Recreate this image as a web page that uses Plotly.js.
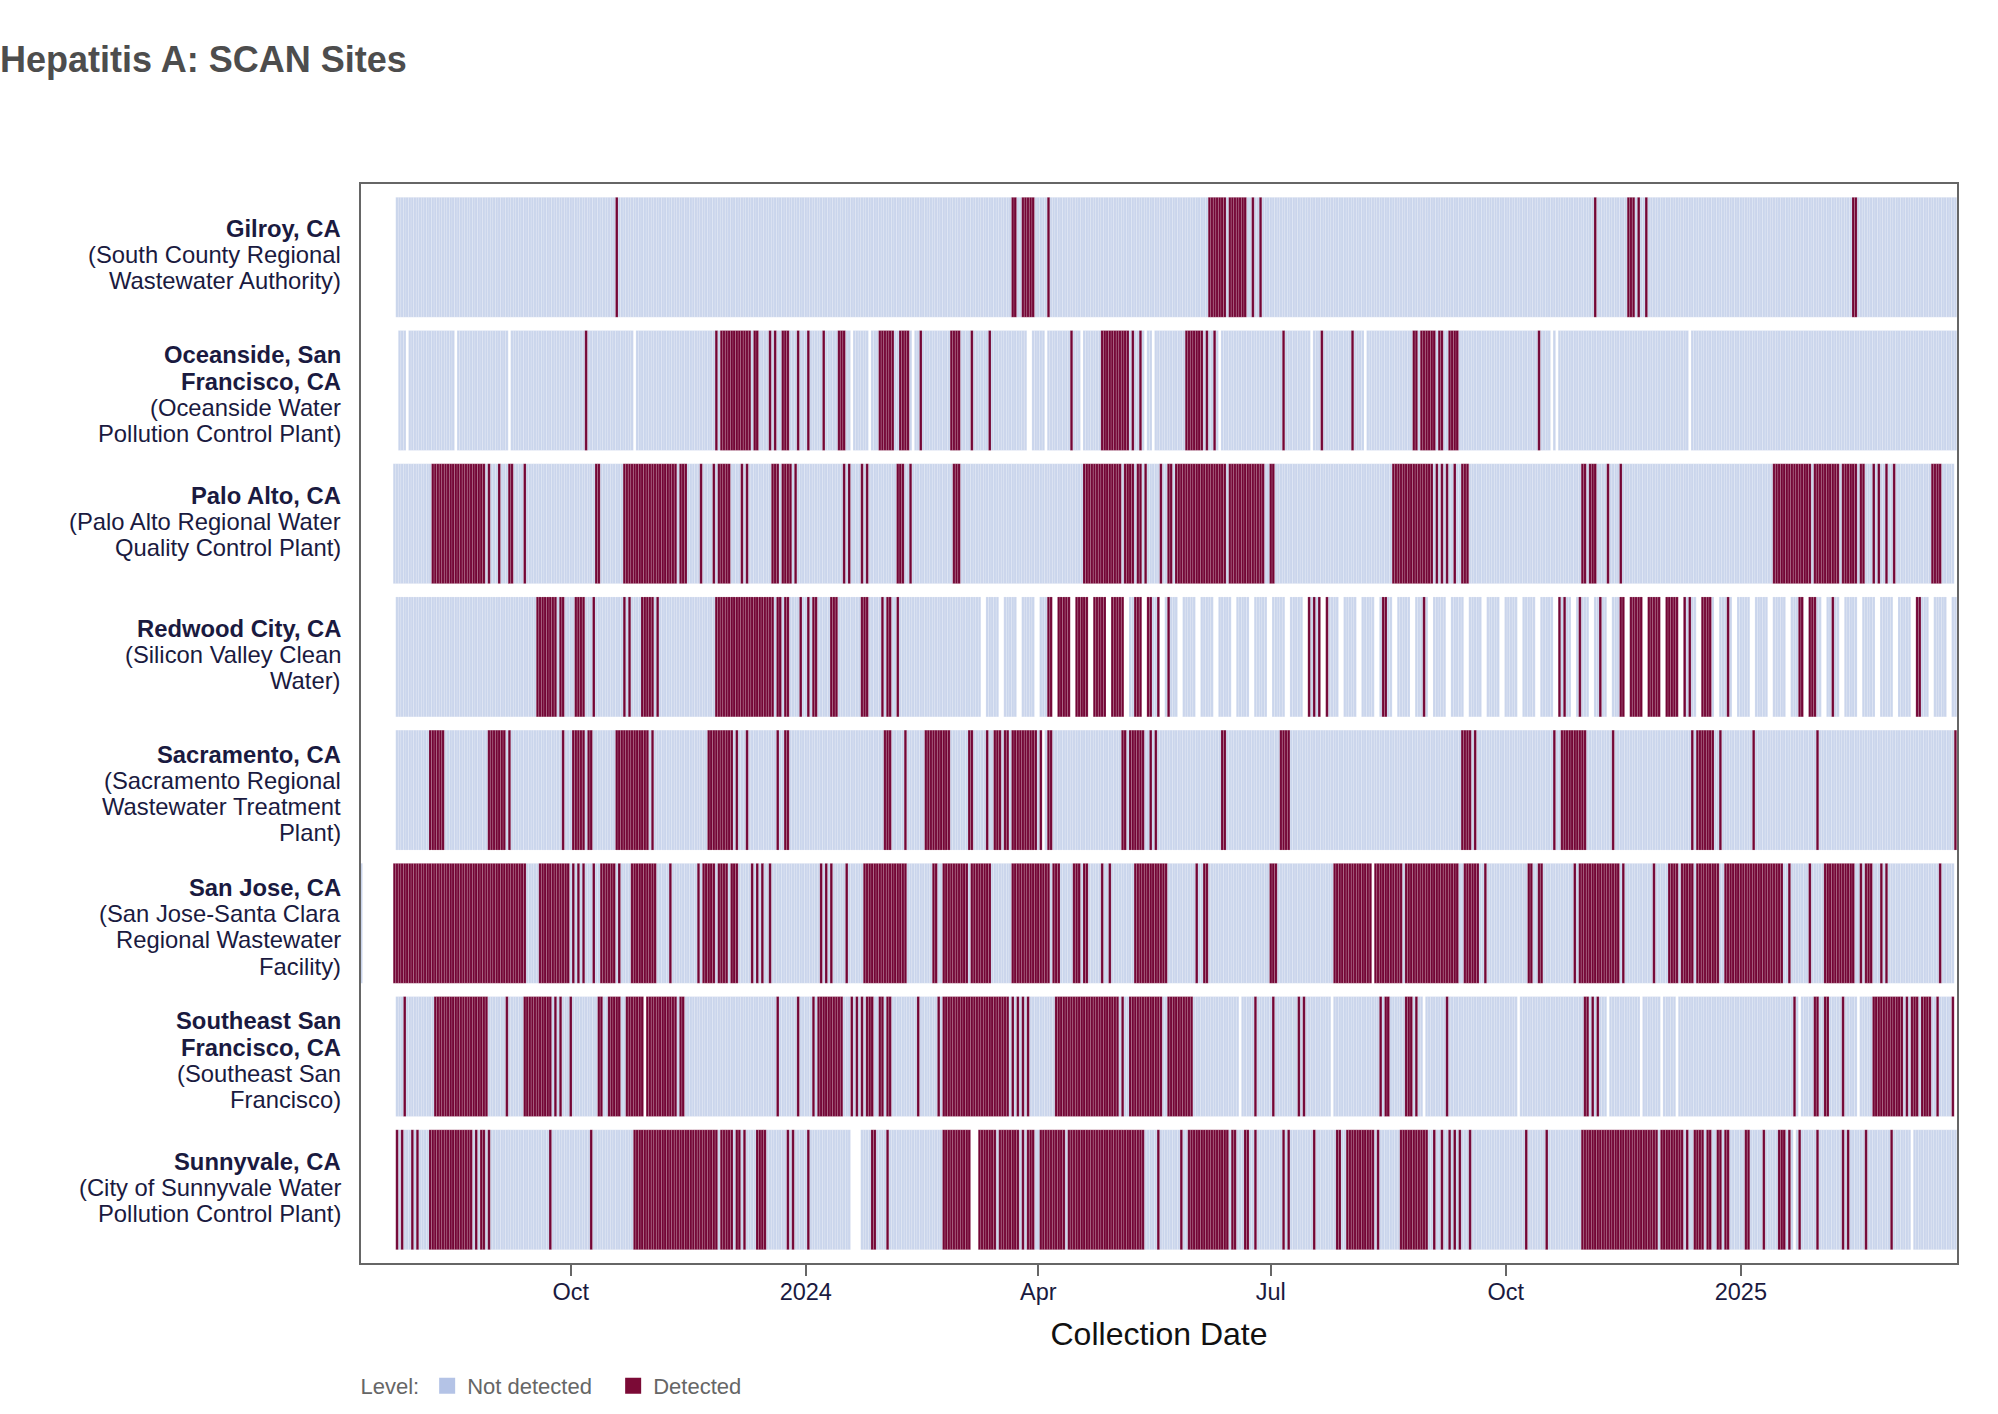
<!DOCTYPE html>
<html>
<head>
<meta charset="utf-8">
<script src="https://cdn.plot.ly/plotly-3.0.1.min.js"></script>
<style>html,body{margin:0;padding:0;background:#fff;}</style>
</head>
<body>
<div id="chart" style="width:1998px;height:1414px;"></div>
<script>
// All day numbers below are days counted from DAY_ZERO (negative = before it).
const DAY_ZERO = '2023-10-01';

// y-axis labels, one entry per line (first line(s) bold = site name)
const siteLabelLines = [
  ['<b>Gilroy, CA</b>', '(South County Regional', 'Wastewater Authority)'],
  ['<b>Oceanside, San</b>', '<b>Francisco, CA</b>', '(Oceanside Water', 'Pollution Control Plant)'],
  ['<b>Palo Alto, CA</b>', '(Palo Alto Regional Water', 'Quality Control Plant)'],
  ['<b>Redwood City, CA</b>', '(Silicon Valley Clean', 'Water)'],
  ['<b>Sacramento, CA</b>', '(Sacramento Regional', 'Wastewater Treatment', 'Plant)'],
  ['<b>San Jose, CA</b>', '(San Jose-Santa Clara', 'Regional Wastewater', 'Facility)'],
  ['<b>Southeast San</b>', '<b>Francisco, CA</b>', '(Southeast San', 'Francisco)'],
  ['<b>Sunnyvale, CA</b>', '(City of Sunnyvale Water', 'Pollution Control Plant)']
];

// sampled = runs of days with a sample; detected = runs of days with a detection
const gilroySampled = [[-68,542]];
const gilroyDetected = [[18,18],[173,174],[177,181],[187,187],[250,256],[258,264],[267,267],[270,270],[401,401],[414,416],[418,418],[421,421],[502,503]];

const oceansideSampled = [[-67,-65],[-63,-46],[-44,-25],[-23,24],[26,109],[111,116],[118,133],[135,178],[181,185],[187,199],[201,224],[226,227],[229,253],[255,289],[291,310],[312,383],[385,385],[387,437],[439,542]];
const oceansideDetected = [[6,6],[57,57],[59,70],[72,73],[78,78],[80,80],[83,85],[89,89],[93,93],[99,99],[105,107],[121,126],[129,132],[137,137],[149,152],[157,157],[164,164],[196,196],[208,218],[220,220],[223,223],[241,247],[249,249],[252,252],[279,279],[294,294],[306,306],[330,331],[333,338],[340,341],[344,347],[379,379]];

const paloAltoSampled = [[-69,541]];
const paloAltoDetected = [[-54,-34],[-32,-32],[-28,-28],[-24,-23],[-18,-18],[10,11],[21,41],[43,45],[51,51],[56,56],[58,62],[67,67],[69,69],[79,81],[83,86],[88,88],[107,107],[109,109],[114,114],[116,116],[128,130],[133,133],[150,152],[201,215],[217,220],[222,223],[225,225],[231,231],[234,235],[237,256],[258,271],[274,275],[322,337],[339,339],[341,341],[343,343],[346,346],[349,351],[396,397],[399,401],[406,406],[411,411],[471,485],[487,496],[498,503],[505,506],[510,510],[512,512],[515,515],[518,518],[533,536]];

const redwoodSampled = [[-68,160],[163,167],[170,174],[177,181],[184,188],[191,195],[198,202],[205,209],[212,216],[219,223],[226,230],[233,237],[240,244],[247,251],[254,258],[261,265],[268,272],[275,279],[282,286],[289,293],[296,300],[303,307],[310,314],[317,321],[324,328],[331,335],[338,342],[345,349],[352,356],[359,363],[366,370],[373,377],[380,384],[387,391],[394,398],[401,405],[408,412],[415,419],[422,426],[429,433],[436,440],[443,447],[450,454],[457,461],[464,468],[471,475],[478,482],[485,489],[492,496],[499,503],[506,510],[513,517],[520,524],[527,531],[534,538],[541,542]];
const redwoodDetected = [[-13,-6],[-4,-3],[2,5],[9,9],[21,21],[23,23],[28,32],[34,34],[57,79],[81,82],[84,85],[90,90],[93,93],[95,96],[102,104],[114,116],[122,122],[124,125],[128,128],[187,188],[191,195],[198,202],[205,209],[212,216],[221,223],[226,227],[230,230],[234,234],[289,289],[291,291],[293,293],[296,296],[318,319],[334,334],[387,387],[389,389],[395,395],[403,403],[411,412],[415,419],[422,426],[429,433],[436,436],[438,438],[443,446],[453,453],[481,482],[485,487],[494,494],[527,528]];

const sacramentoSampled = [[-68,184],[186,542]];
const sacramentoDetected = [[-55,-50],[-32,-26],[-24,-24],[-3,-3],[1,5],[7,8],[18,30],[32,32],[54,63],[65,65],[69,69],[81,81],[84,85],[123,125],[131,131],[139,148],[156,157],[163,163],[166,168],[170,171],[173,182],[184,184],[187,188],[216,217],[219,224],[227,227],[229,229],[255,256],[278,281],[349,352],[354,354],[385,385],[388,397],[408,408],[439,439],[441,447],[450,450],[463,463],[488,488],[542,542]];

const sanJoseSampled = [[-82,-82],[-69,313],[315,541]];
const sanJoseDetected = [[-69,-18],[-12,-1],[1,1],[3,3],[5,5],[9,9],[12,17],[19,19],[24,33],[39,39],[50,50],[52,56],[58,61],[63,65],[71,71],[73,73],[75,75],[78,78],[98,98],[100,100],[102,102],[108,108],[115,131],[142,143],[146,155],[157,164],[173,187],[189,191],[197,199],[201,202],[208,208],[211,211],[221,233],[245,245],[248,249],[274,276],[299,313],[315,325],[327,347],[350,355],[358,358],[375,376],[379,380],[393,393],[395,410],[412,412],[424,424],[430,433],[435,439],[441,449],[452,474],[477,477],[485,485],[491,502],[505,505],[507,509],[513,513],[515,515],[536,536]];

const southeastSampled = [[-68,28],[30,261],[263,297],[299,333],[335,370],[372,405],[407,418],[420,426],[428,432],[434,480],[482,503],[505,541]];
const southeastDetected = [[-65,-65],[-53,-33],[-25,-25],[-18,-8],[-6,-6],[-4,-4],[0,0],[11,12],[15,19],[22,28],[30,41],[43,44],[81,81],[89,89],[95,95],[97,106],[110,110],[112,112],[114,114],[116,118],[121,122],[124,125],[136,136],[144,144],[146,171],[173,173],[175,175],[177,177],[179,179],[190,214],[216,216],[219,231],[234,243],[268,268],[275,275],[285,285],[287,287],[317,317],[319,320],[327,329],[331,331],[343,343],[397,398],[400,400],[402,402],[479,479],[487,488],[491,492],[498,498],[510,521],[523,523],[525,527],[529,532],[535,535],[541,541]];

const sunnyvaleSampled = [[-68,109],[114,156],[160,478],[480,524],[526,542]];
const sunnyvaleDetected = [[-68,-68],[-66,-66],[-62,-62],[-60,-60],[-55,-39],[-37,-37],[-35,-34],[-32,-32],[-8,-8],[8,8],[25,57],[59,63],[65,66],[68,68],[73,76],[85,85],[87,87],[93,93],[118,119],[124,124],[146,156],[160,166],[168,175],[177,177],[179,181],[184,193],[195,224],[230,230],[239,239],[242,257],[259,260],[264,265],[268,268],[279,279],[281,281],[291,291],[300,301],[304,314],[316,316],[325,335],[338,338],[341,341],[344,344],[346,346],[348,348],[352,352],[374,374],[382,382],[396,425],[427,435],[437,437],[440,443],[445,446],[449,450],[452,453],[460,461],[467,467],[473,475],[477,477],[481,481],[488,488],[498,498],[500,500],[507,507],[517,517]];

const tickDates = ['2023-10-01','2024-01-01','2024-04-01','2024-07-01','2024-10-01','2025-01-01'];
const tickLabels = ['Oct','2024','Apr','Jul','Oct','2025'];
const levelNames = ['Not detected','Detected'];
const levelColors = ['#cad5ec','#730535'];
const legendColors = ['#b4c3e6','#7b0a36'];
const xRange = ['2023-07-10 21:30','2025-03-26 14:30'];

const siteData = [
  [gilroySampled, gilroyDetected],
  [oceansideSampled, oceansideDetected],
  [paloAltoSampled, paloAltoDetected],
  [redwoodSampled, redwoodDetected],
  [sacramentoSampled, sacramentoDetected],
  [sanJoseSampled, sanJoseDetected],
  [southeastSampled, southeastDetected],
  [sunnyvaleSampled, sunnyvaleDetected]
];

const DAY_MS = 86400000;
const zeroMs = Date.parse(DAY_ZERO + 'T00:00:00Z');
function dayToDate(d) { return new Date(zeroMs + d * DAY_MS).toISOString().slice(0, 10); }
function inRuns(runs, d) { return runs.some(r => d >= r[0] && d <= r[1]); }

const tiles = levelNames.map(() => ({x: [], base: [], y: []}));
siteData.forEach(([sampled, detected], i) => {
  sampled.forEach(([a, b]) => {
    for (let d = a; d <= b; d++) {
      const lvl = inRuns(detected, d) ? 1 : 0;
      tiles[lvl].x.push(dayToDate(d));
      tiles[lvl].base.push(i - 0.45);
      tiles[lvl].y.push(0.9);
    }
  });
});

const traces = levelNames.map((name, k) => ({
  type: 'bar',
  name: name,
  x: tiles[k].x,
  y: tiles[k].y,
  base: tiles[k].base,
  width: DAY_MS,
  marker: {color: levelColors[k], line: {color: 'rgba(255,255,255,0.3)', width: 0.5}},
  showlegend: false,
  hoverinfo: 'x+name'
}));
// legend keys
levelNames.forEach((name, k) => traces.push({
  type: 'scatter', mode: 'markers', name: name,
  x: [null], y: [null],
  marker: {symbol: 'square', size: 16, color: legendColors[k], line: {width: 0}},
  showlegend: true, hoverinfo: 'skip'
}));

// site labels drawn line by line at each row
const LINE_PX = 26.1;
const annotations = [];
siteLabelLines.forEach((lines, i) => {
  const n = lines.length;
  const nudge = n === 3 ? 2.4 : -3.6;   // vertical placement of the label block
  lines.forEach((txt, j) => annotations.push({
    text: txt, x: 0, xref: 'paper', xanchor: 'right', xshift: -18.5,
    y: i, yref: 'y', yanchor: 'middle', yshift: ((n - 1) / 2 - j) * LINE_PX + nudge,
    showarrow: false, align: 'right',
    font: {size: 23.8, color: '#1a1a40'}
  }));
});

const layout = {
  width: 1998, height: 1414,
  margin: {l: 361, r: 41, t: 184, b: 151},
  paper_bgcolor: '#ffffff', plot_bgcolor: '#ffffff',
  barmode: 'overlay',
  font: {family: '"Liberation Sans", Arial, sans-serif', color: '#1a1a40'},
  title: {text: '<b>Hepatitis A: SCAN Sites</b>', x: 0, xanchor: 'left', xref: 'container',
          y: 0.958, yanchor: 'middle', yref: 'container',
          font: {size: 36, color: '#4d4d4d', family: '"Liberation Sans", Arial, sans-serif'}},
  xaxis: {
    type: 'date', range: xRange,
    tickvals: tickDates, ticktext: tickLabels,
    ticks: 'outside', ticklen: 11, tickwidth: 1.5, tickcolor: '#666666',
    ticklabelstandoff: -4,
    tickfont: {size: 23.5, color: '#1a1a40'},
    showgrid: false, zeroline: false, automargin: false,
    showline: true, linecolor: '#666666', linewidth: 2, mirror: true,
    title: {text: 'Collection Date', font: {size: 32, color: '#111111'}, standoff: 18}
  },
  yaxis: {
    range: [7.55, -0.55],
    tickvals: [0,1,2,3,4,5,6,7],
    showticklabels: false, ticks: '', automargin: false,
    showgrid: false, zeroline: false,
    showline: true, linecolor: '#666666', linewidth: 2, mirror: true
  },
  annotations: annotations,
  legend: {
    orientation: 'h', xref: 'container', yref: 'container',
    x: 0.1794, xanchor: 'left', y: 0.0198, yanchor: 'middle',
    entrywidth: 141, entrywidthmode: 'pixels',
    title: {text: 'Level:', side: 'left', font: {size: 22, color: '#666666'}},
    font: {size: 22, color: '#666666'}
  },
  showlegend: true
};

Plotly.newPlot('chart', traces, layout, {displayModeBar: false});
</script>
</body>
</html>
